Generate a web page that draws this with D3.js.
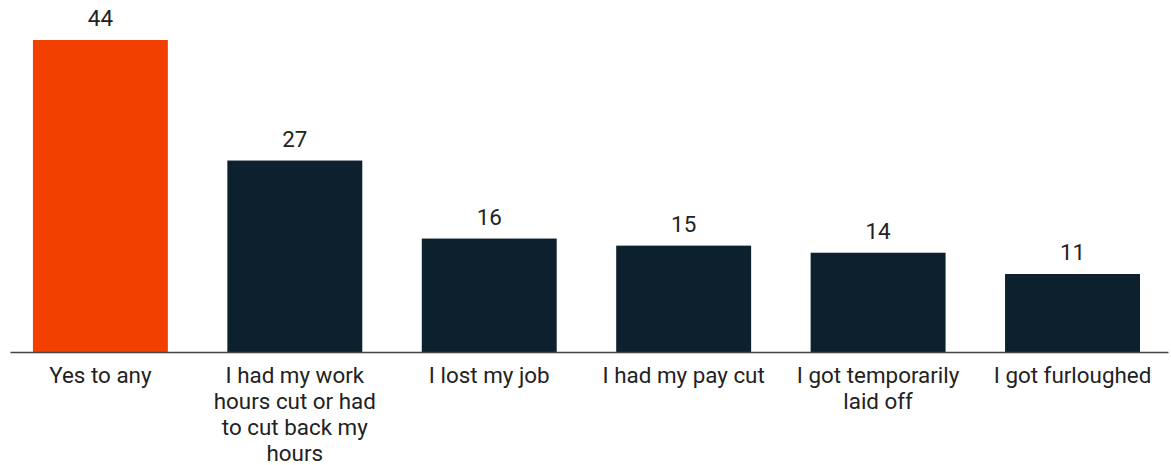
<!DOCTYPE html>
<html>
<head>
<meta charset="utf-8">
<script src="https://cdn.jsdelivr.net/npm/d3@7"></script>
<style>
  html, body { margin: 0; padding: 0; background: #fff; }
  svg { display: block; font-family: Roboto, "Noto Sans", sans-serif; }
</style>
</head>
<body>
<svg id="chart" width="1171" height="465"></svg>
<script>
// Share of respondents reporting each employment impact (%)
const categories = [
  "Yes to any",
  "I had my work hours cut or had to cut back my hours",
  "I lost my job",
  "I had my pay cut",
  "I got temporarily laid off",
  "I got furloughed"
];
const values = [44, 27, 16, 15, 14, 11];
const labelLines = [
  ["Yes to any"],
  ["I had my work", "hours cut or had", "to cut back my", "hours"],
  ["I lost my job"],
  ["I had my pay cut"],
  ["I got temporarily", "laid off"],
  ["I got furloughed"]
];
const highlightColor = "#F24000";
const barColor = "#0C202E";

const svg = d3.select("#chart");
const baselineY = 352;
const plotTop = 40;
const fontSize = 22.4;

const x = d3.scaleBand()
  .domain(categories)
  .range([10, 1168])
  .paddingInner(0.306)
  .paddingOuter(0.131)
  .align(0.45);

const y = d3.scaleLinear()
  .domain([0, 44])
  .range([baselineY, plotTop]);

// bars
svg.append("g")
  .selectAll("rect")
  .data(categories)
  .join("rect")
  .attr("x", d => x(d))
  .attr("y", (d, i) => y(values[i]))
  .attr("width", x.bandwidth())
  .attr("height", (d, i) => baselineY - y(values[i]))
  .attr("fill", (d, i) => i === 0 ? highlightColor : barColor);

// value labels
svg.append("g")
  .selectAll("text")
  .data(categories)
  .join("text")
  .attr("x", d => x(d) + x.bandwidth() / 2)
  .attr("y", (d, i) => y(values[i]) - 14)
  .attr("text-anchor", "middle")
  .attr("font-size", fontSize)
  .attr("fill", "#222")
  .text((d, i) => values[i]);

// baseline axis
const axis = d3.axisBottom(x).tickSize(0).tickFormat("");
const axisG = svg.append("g")
  .attr("transform", `translate(0,${baselineY})`)
  .call(axis);
axisG.select(".domain").attr("stroke", "#444").attr("stroke-width", 1.5);

// category labels (wrapped)
const lbl = svg.append("g")
  .selectAll("text")
  .data(categories)
  .join("text")
  .attr("text-anchor", "middle")
  .attr("font-size", fontSize)
  .attr("fill", "#222")
  .attr("transform", d => `translate(${x(d) + x.bandwidth() / 2},${baselineY + 31})`);

lbl.selectAll("tspan")
  .data((d, i) => labelLines[i])
  .join("tspan")
  .attr("x", 0)
  .attr("y", (d, j) => j * 26)
  .text(d => d);
</script>
</body>
</html>
